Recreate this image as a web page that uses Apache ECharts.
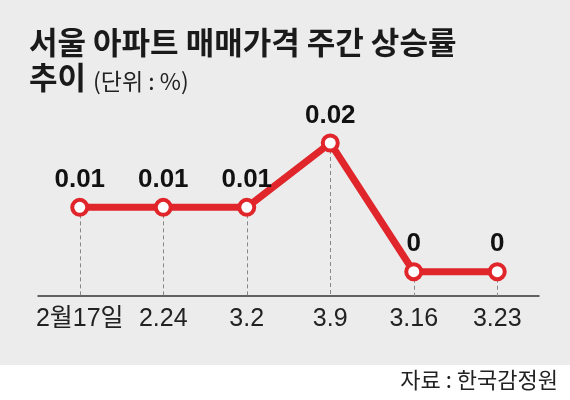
<!DOCTYPE html>
<html>
<head>
<meta charset="utf-8">
<script src="https://cdn.jsdelivr.net/npm/echarts@6/dist/echarts.min.js"></script>
<style>
  html, body { margin: 0; padding: 0; background: #fff; }
  #chart { width: 570px; height: 400px; }
</style>
</head>
<body>
<div id="chart"></div>
<script>
// 주간 상승률 (단위 : %)
const weeks = ['2월17일', '2.24', '3.2', '3.9', '3.16', '3.23'];
const rates = [0.01, 0.01, 0.01, 0.02, 0, 0];
const yMin = -0.00377;
const yMax = 0.02;

const red = '#e0252b';
const numFont = '"Liberation Sans", "Noto Sans CJK KR", sans-serif';
const krFont = '"Noto Sans CJK KR", sans-serif';

// 점에서 축까지 내려오는 점선
const dropLines = weeks.map((w, i) => [
  { coord: [w, rates[i]] },
  { coord: [w, yMin] }
]);

const chart = echarts.init(document.getElementById('chart'));
chart.setOption({
  backgroundColor: '#fff',
  animation: false,
  graphic: [
    { type: 'rect', left: 0, top: 0, z: -10, shape: { width: 570, height: 365 }, style: { fill: '#ececec' } },
    {
      type: 'text', x: 29, y: 27,
      style: { text: '서울 아파트 매매가격 주간 상승률', fontSize: 31, fontWeight: 'bold', fontFamily: krFont, fill: '#1a1a1a', verticalAlign: 'top' }
    },
    {
      type: 'text', x: 29, y: 62,
      style: { text: '추이', fontSize: 31, fontWeight: 'bold', fontFamily: krFont, fill: '#1a1a1a', verticalAlign: 'top' }
    },
    {
      type: 'text', x: 93, y: 70,
      style: { text: '(단위 : %)', fontSize: 23, fontFamily: krFont, fill: '#222', verticalAlign: 'top' }
    },
    {
      type: 'text', x: 558, y: 369,
      style: { text: '자료 : 한국감정원', fontSize: 22, fontFamily: krFont, fill: '#222', align: 'right', verticalAlign: 'top' }
    }
  ],
  grid: { left: 38, right: 31, top: 143, bottom: 104 },
  xAxis: {
    type: 'category',
    data: weeks,
    boundaryGap: true,
    axisLine: { onZero: false, lineStyle: { color: '#333', width: 1.5 } },
    axisTick: { show: false },
    axisLabel: { interval: 0, color: '#222', fontSize: 25, fontFamily: numFont, margin: 11 }
  },
  yAxis: {
    type: 'value',
    min: yMin,
    max: yMax,
    show: false,
    splitLine: { show: false }
  },
  series: [{
    type: 'line',
    data: rates,
    clip: false,
    lineStyle: { color: red, width: 7 },
    symbol: 'circle',
    symbolSize: 15,
    itemStyle: { color: '#fff', borderColor: red, borderWidth: 4 },
    label: {
      show: true,
      position: 'top',
      distance: 5,
      color: '#111',
      fontSize: 26,
      fontWeight: 'bold',
      fontFamily: numFont
    },
    markLine: {
      silent: true,
      symbol: 'none',
      z: 1,
      label: { show: false },
      lineStyle: { color: '#888', type: [4, 3], width: 1 },
      data: dropLines
    }
  }]
});
</script>
</body>
</html>
